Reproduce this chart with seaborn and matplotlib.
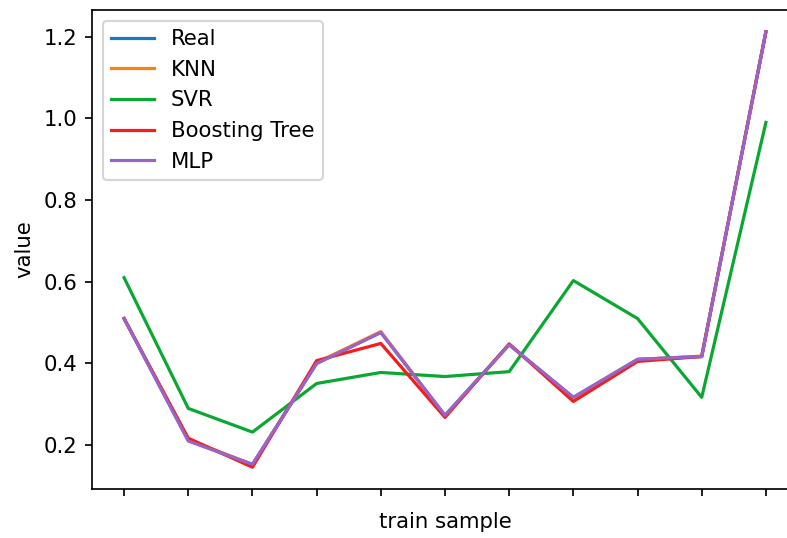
import numpy as np
import pandas as pd
import matplotlib
matplotlib.use("Agg")
import matplotlib.pyplot as plt
import seaborn as sns

# ==================================================
# DATA
# ==================================================

samples = list(range(11))

real = [0.51, 0.212, 0.153, 0.40, 0.476, 0.273, 0.446, 0.317, 0.41, 0.417, 1.212]
knn = [0.51, 0.214, 0.152, 0.402, 0.478, 0.272, 0.446, 0.316, 0.41, 0.418, 1.212]
svr = [0.61, 0.29, 0.232, 0.351, 0.378, 0.368, 0.38, 0.603, 0.51, 0.317, 0.99]
boosting = [0.51, 0.217, 0.146, 0.407, 0.449, 0.268, 0.448, 0.307, 0.405, 0.417, 1.212]
mlp = [0.51, 0.21, 0.153, 0.40, 0.476, 0.273, 0.446, 0.317, 0.41, 0.417, 1.212]

series_names = ["Real", "KNN", "SVR", "Boosting Tree", "MLP"]
series_values = [real, knn, svr, boosting, mlp]
series_colors = ["#1878c0", "#ff8012", "#0aa832", "#f41c1c", "#9b62c8"]

# ==================================================
# PLOT
# ==================================================

DPI = 153

fig = plt.figure(figsize=(787 / DPI, 538 / DPI), dpi=DPI)

# the reference is cropped on the right, so the axes run past the edge
ax = fig.add_axes([92 / 787, 49 / 538, 706 / 787, 479 / 538])

for name, values, color in zip(series_names, series_values, series_colors):

    df = pd.DataFrame({"sample": samples, "value": values})

    sns.lineplot(
        data=df,
        x="sample",
        y="value",
        color=color,
        label=name,
        linewidth=1.5,
        ax=ax
    )

ax.set_xticks(samples)
ax.set_xticklabels([])
ax.set_yticks([0.2, 0.4, 0.6, 0.8, 1.0, 1.2])

ax.set_xlabel("train sample")
ax.set_ylabel("value")

ax.legend(loc="upper left")

fig.savefig("out.png", dpi=DPI)
plt.close(fig)
